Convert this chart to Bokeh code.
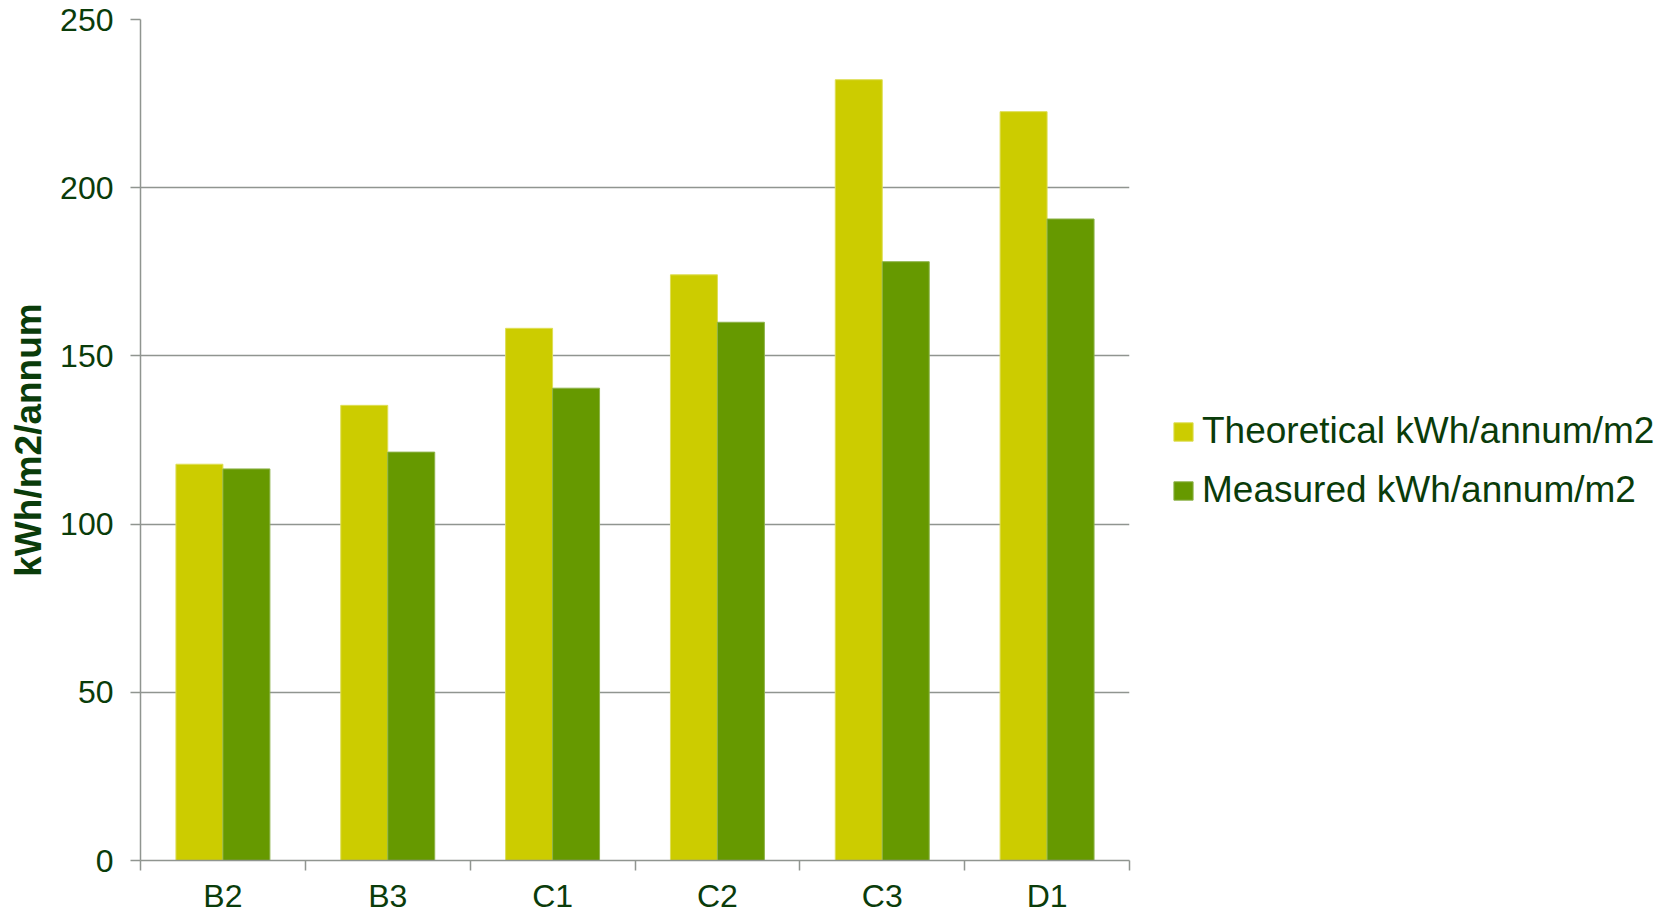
from bokeh.plotting import figure
from bokeh.models import ColumnDataSource, FixedTicker, Legend, LegendItem, Range1d
from bokeh.embed import file_html
from bokeh.resources import INLINE

# Energy use per building
buildings = ["B2", "B3", "C1", "C2", "C3", "D1"]
theoretical = [117.8, 135.3, 158.2, 174.1, 232.1, 222.6]
measured = [116.4, 121.4, 140.4, 160.0, 178.0, 190.7]
y_ticks = [0, 50, 100, 150, 200, 250]

TEXT = "#0A3C0A"
GRAY = "#909590"
FONT = "Liberation Sans"
BAR_W = 0.285

centers = [i + 0.5 for i in range(len(buildings))]
src = ColumnDataSource(dict(
    x_theo=[c - BAR_W / 2 for c in centers],
    x_meas=[c + BAR_W / 2 for c in centers],
    theo=theoretical,
    meas=measured,
))

p = figure(
    width=1675, height=912,
    frame_width=989, frame_height=841,
    x_range=Range1d(0, len(buildings)), y_range=Range1d(0, 250),
    output_backend="svg", toolbar_location=None,
    min_border_left=140, min_border_right=546,
    min_border_top=19, min_border_bottom=52,
)
p.outline_line_color = None
p.background_fill_color = "white"
p.border_fill_color = "white"

r_theo = p.vbar(x="x_theo", top="theo", width=BAR_W, source=src,
                fill_color="#CCCC00", line_color="#DEDE55", line_width=1)
r_meas = p.vbar(x="x_meas", top="meas", width=BAR_W, source=src,
                fill_color="#669900", line_color="#8DB34A", line_width=1)

# x axis: labels centred on each building, ticks on category boundaries
xa = p.xaxis[0]
xa.ticker = FixedTicker(ticks=centers, minor_ticks=list(range(len(buildings) + 1)))
xa.major_label_overrides = {c: b for c, b in zip(centers, buildings)}
xa.major_tick_line_color = None
xa.minor_tick_out = 10
xa.minor_tick_in = 0
xa.minor_tick_line_color = GRAY
xa.minor_tick_line_width = 1.5
xa.axis_line_color = GRAY
xa.axis_line_width = 1.5
xa.major_label_text_font = FONT
xa.major_label_text_font_size = "32px"
xa.major_label_text_color = TEXT
xa.major_label_standoff = 7

ya = p.yaxis[0]
ya.ticker = FixedTicker(ticks=y_ticks)
ya.minor_tick_line_color = None
ya.major_tick_out = 10
ya.major_tick_in = 0
ya.major_tick_line_color = GRAY
ya.major_tick_line_width = 1.5
ya.axis_line_color = GRAY
ya.axis_line_width = 1.5
ya.major_label_text_font = FONT
ya.major_label_text_font_size = "32px"
ya.major_label_text_color = TEXT
ya.major_label_standoff = 17
ya.axis_label = "kWh/m2/annum"
ya.axis_label_text_font = FONT
ya.axis_label_text_font_size = "37px"
ya.axis_label_text_font_style = "bold"
ya.axis_label_text_color = TEXT
ya.axis_label_standoff = 8

p.xgrid.grid_line_color = None
p.ygrid.grid_line_color = GRAY
p.ygrid.grid_line_width = 1.5

legend = Legend(
    items=[
        LegendItem(label="Theoretical kWh/annum/m2", renderers=[r_theo]),
        LegendItem(label="Measured kWh/annum/m2", renderers=[r_meas]),
    ],
    location=(42, 349),
    padding=0, margin=0, spacing=17,
    glyph_width=24, glyph_height=23, label_standoff=7,
    label_text_font=FONT, label_text_font_size="37px",
    label_text_color=TEXT, label_height=41,
    border_line_color=None, background_fill_alpha=0,
)
p.add_layout(legend, "right")

open("out.html", "w").write(file_html(p, INLINE))
